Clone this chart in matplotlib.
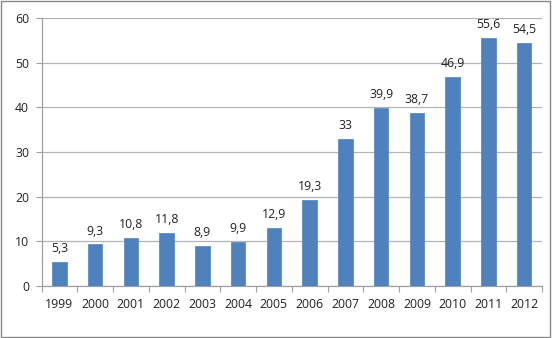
import matplotlib
matplotlib.use("Agg")
import matplotlib.pyplot as plt
import numpy as np

years = ["1999", "2000", "2001", "2002", "2003", "2004", "2005", "2006",
         "2007", "2008", "2009", "2010", "2011", "2012"]
values = [5.3, 9.3, 10.8, 11.8, 8.9, 9.9, 12.9, 19.3, 33, 39.9, 38.7, 46.9, 55.6, 54.5]
labels = ["5,3", "9,3", "10,8", "11,8", "8,9", "9,9", "12,9", "19,3", "33",
          "39,9", "38,7", "46,9", "55,6", "54,5"]
yticks = [0, 10, 20, 30, 40, 50, 60]

plt.rcParams['font.family'] = ['Open Sans', 'DejaVu Sans']
FS = 8.8
fig = plt.figure(figsize=(5.52, 3.38), dpi=100)
ax = fig.add_axes([41.5/552, 1-286/338, (542-41.5)/552, (286-18)/338])

x = np.arange(len(years))
ax.bar(x, values, width=0.4, color="#4F81BD", edgecolor="#5B8CC8", linewidth=0.6, zorder=3)
for xi, v, lab in zip(x, values, labels):
    ax.annotate(lab, (xi, v), xytext=(0, 5), textcoords="offset points",
                ha="center", va="bottom", fontsize=FS, color="#222222")

ax.set_xlim(-0.5, len(years) - 0.5)
ax.set_ylim(0, 60)
ax.set_yticks(yticks)
ax.set_yticklabels([str(t) for t in yticks])
ax.yaxis.grid(True, color="#B4B4B4", linewidth=0.9, zorder=0)
ax.set_axisbelow(True)

ax.set_xticks(x)
ax.set_xticklabels(years)
ax.set_xticks(np.arange(-0.5, len(years)), minor=True)
ax.tick_params(axis="x", which="major", length=0, pad=9, labelsize=FS, colors="#222222")
ax.tick_params(axis="x", which="minor", length=4, color="#A0A0A0", width=0.8)
ax.tick_params(axis="y", length=4, color="#A0A0A0", width=0.8, pad=5, labelsize=FS, labelcolor="#222222")

for s in ["top", "right"]:
    ax.spines[s].set_visible(False)
ax.spines["left"].set_color("#A0A0A0")
ax.spines["bottom"].set_color("#A0A0A0")
ax.spines["left"].set_linewidth(0.9)
ax.spines["bottom"].set_linewidth(0.9)

border = plt.Rectangle((0.002, 0.003), 0.995, 0.994, transform=fig.transFigure,
                       fill=False, edgecolor="#868686", linewidth=1.0)
fig.patches.append(border)

fig.savefig("out.png", dpi=100)
